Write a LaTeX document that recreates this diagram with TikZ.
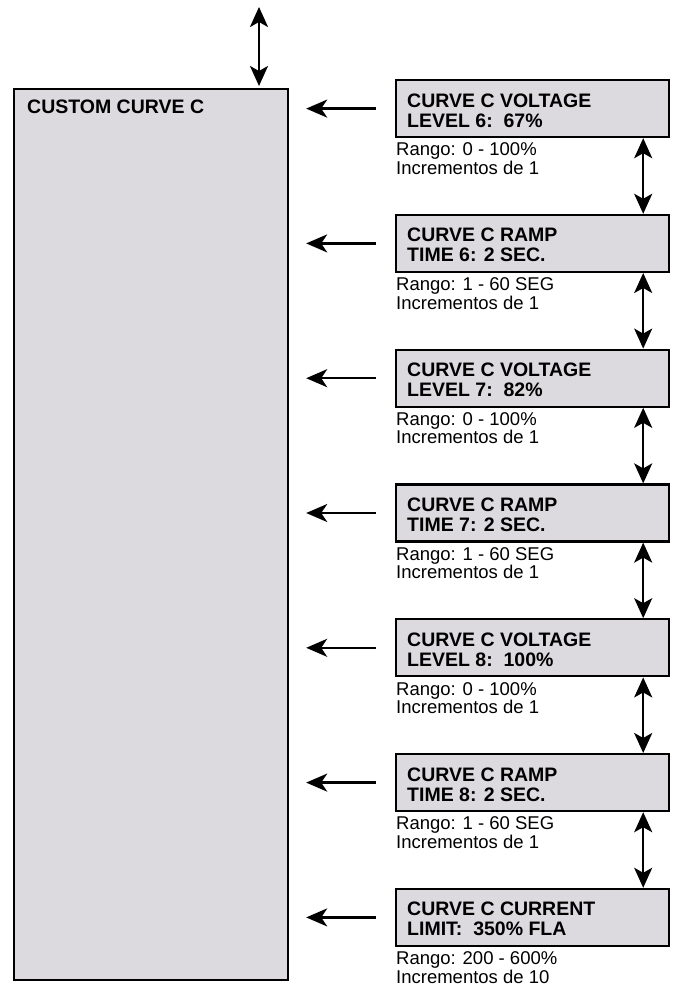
\documentclass[tikz,border=0pt]{standalone}
\usepackage{fontspec}
\setmainfont{Liberation Sans}
\usetikzlibrary{arrows.meta}
\definecolor{boxgray}{RGB}{220,218,222}
\tikzset{
  panel/.style={draw=black, fill=boxgray, line width=2.2pt, rectangle, inner sep=0pt, anchor=north west, minimum width=273pt, minimum height=57pt},
  bigpanel/.style={draw=black, fill=boxgray, line width=2.2pt, rectangle, inner sep=0pt, anchor=north west, minimum width=274pt, minimum height=891pt},
  paneltext/.style={anchor=base west, inner sep=0pt, align=left, font=\fontsize{19.5}{20}\selectfont\bfseries},
  rangetext/.style={anchor=base west, inner sep=0pt, align=left, font=\fontsize{18.5}{16}\selectfont},
  leftarrow/.style={line width=2.4pt, -{Stealth[length=21pt,width=18pt,inset=6pt]}},
  bothways/.style={line width=2.4pt, {Stealth[length=20pt,width=18pt,inset=5pt]}-{Stealth[length=20pt,width=18pt,inset=5pt]}}
}
\begin{document}
\begin{tikzpicture}[x=1pt,y=-1pt]
\useasboundingbox (0,0) rectangle (676,991);
% big box
\node[bigpanel] (big) at (13,88) {};
\node[paneltext] (bigt) at (27,113) {CUSTOM CURVE C};
\coordinate (topend) at (259,7);
\draw[bothways, shorten >=2pt] (topend) -- (topend |- big.north);
% right boxes
\foreach \i/\la/\lb/\ra/\rb in {
  1/CURVE C VOLTAGE/LEVEL 6:\ \ 67\%/Rango: 0 - 100\%/Incrementos de 1,
  2/CURVE C RAMP/TIME 6: 2 SEC./Rango: 1 - 60 SEG/Incrementos de 1,
  3/CURVE C VOLTAGE/LEVEL 7:\ \ 82\%/Rango: 0 - 100\%/Incrementos de 1,
  4/CURVE C RAMP/TIME 7: 2 SEC./Rango: 1 - 60 SEG/Incrementos de 1,
  5/CURVE C VOLTAGE/LEVEL 8:\ \ 100\%/Rango: 0 - 100\%/Incrementos de 1,
  6/CURVE C RAMP/TIME 8: 2 SEC./Rango: 1 - 60 SEG/Incrementos de 1,
  7/CURVE C CURRENT/LIMIT:\ \ 350\% FLA/Rango: 200 - 600\%/Incrementos de 10}{
  \node[panel] (b\i) at (395,{79+134.8*(\i-1)}) {};
  \node[paneltext] (b\i t) at ([xshift=12pt,yshift=-48pt]b\i.north west) {\la\\\lb};
  \node[rangetext] (b\i r) at ([xshift=1pt,yshift=-36pt]b\i.south west) {\ra\\\rb};
  \draw[leftarrow, shorten <=19pt, shorten >=17pt] (b\i.west) -- (b\i.west -| big.east);
}
\foreach \i [evaluate=\i as \j using int(\i+1)] in {1,...,6}{
  \draw[bothways] ([xshift=-27pt]b\i.south east) -- ([xshift=-27pt]b\j.north east);
}
\end{tikzpicture}
\end{document}
